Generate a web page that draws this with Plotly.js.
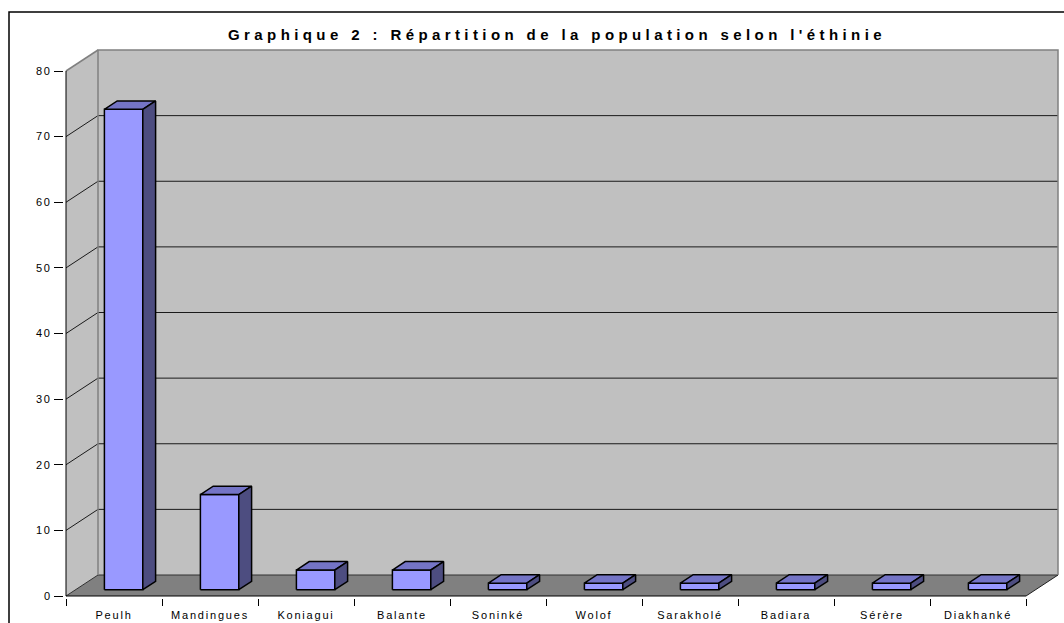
<!DOCTYPE html>
<html>
<head>
<meta charset="utf-8">
<script src="https://cdn.plot.ly/plotly-3.0.1.min.js"></script>
<style>
  html, body { margin: 0; padding: 0; background: #fff; }
  #chart { width: 1064px; height: 623px; }
  .gtitle { letter-spacing: 4.4px; }
  .xtick text, .ytick text { letter-spacing: 1.8px; }
</style>
</head>
<body>
<div id="chart"></div>
<script>
// ---- data ----
const categories = ['Peulh', 'Mandingues', 'Koniagui', 'Balante', 'Soninké', 'Wolof', 'Sarakholé', 'Badiara', 'Sérère', 'Diakhanké'];
const values = [73.2, 14.5, 3.0, 3.0, 1.0, 1.0, 1.0, 1.0, 1.0, 1.0];
const yTickVals = [0, 10, 20, 30, 40, 50, 60, 70, 80];
const yMax = 80;
const titleText = "Graphique 2 : Répartition de la population selon l'éthinie";

// ---- 3D geometry (in axis units) ----
const n = categories.length;
const pxX = 96, pxY = 6.5625;          // pixels per unit
const D = 32 / pxX;                     // depth offset along x
const H = 21 / pxY;                     // depth offset along y
const padX = 2 / pxX, padY = 2 / pxY;
const f = 0.3;                          // depth of bar front face
const depth = 0.4;                      // bar depth fraction
const bw = 0.4;                         // bar width (category units)

const FONT = '"Liberation Sans", Arial, sans-serif';

function polyTrace(polys, fill, lineColor, lineWidth) {
  const x = [], y = [];
  polys.forEach((p, k) => {
    if (k > 0) { x.push(null); y.push(null); }
    p.forEach(pt => { x.push(pt[0]); y.push(pt[1]); });
    x.push(p[0][0]); y.push(p[0][1]);
  });
  return {
    type: 'scatter', mode: 'lines', x, y,
    fill: fill ? 'toself' : 'none', fillcolor: fill || undefined,
    line: { color: lineColor || 'rgba(0,0,0,0)', width: lineWidth || 0 },
    hoverinfo: 'skip', showlegend: false
  };
}
function lineTrace(segs, color, width) {
  const x = [], y = [];
  segs.forEach((s, k) => {
    if (k > 0) { x.push(null); y.push(null); }
    s.forEach(pt => { x.push(pt[0]); y.push(pt[1]); });
  });
  return { type: 'scatter', mode: 'lines', x, y, line: { color, width },
           hoverinfo: 'skip', showlegend: false };
}

const traces = [];
// walls and floor
traces.push(polyTrace([[[0, 0], [D, H], [D, yMax + H], [0, yMax]]], '#C0C0C0'));
traces.push(polyTrace([[[D, H], [n + D, H], [n + D, yMax + H], [D, yMax + H]]], '#C0C0C0'));
traces.push(polyTrace([[[0, 0], [n, 0], [n + D, H], [D, H]]], '#808080'));

// gridlines
const gridSegs = yTickVals.filter(v => v > 0 && v < yMax).map(v => [[0, v], [D, v + H], [n + D, v + H]]);
traces.push(lineTrace(gridSegs, '#1a1a1a', 1));
// floor edges
traces.push(lineTrace([[[0, 0], [D, H], [n + D, H]]], '#303030', 1));
traces.push(lineTrace([[[n, 0], [n + D, H]]], '#202020', 1));
// wall borders (gray)
traces.push(lineTrace([[[D, H], [D, yMax + H], [n + D, yMax + H], [n + D, H]], [[0, yMax], [D, yMax + H]]], '#808080', 1.5));
// front axis lines
traces.push(lineTrace([[[0, 0], [0, yMax]], [[0, 0], [n, 0]]], '#000000', 1));

// bars
const fronts = [], tops = [], sides = [];
values.forEach((v, i) => {
  const c = i + 0.5 + f * D;
  const x0 = c - bw / 2, x1 = c + bw / 2;
  const b = f * H, t = b + v;
  const dx = depth * D, dy = depth * H;
  fronts.push([[x0, b], [x1, b], [x1, t], [x0, t]]);
  tops.push([[x0, t], [x1, t], [x1 + dx, t + dy], [x0 + dx, t + dy]]);
  sides.push([[x1, b], [x1 + dx, b + dy], [x1 + dx, t + dy], [x1, t]]);
});
traces.push(polyTrace(fronts, '#9999FF', '#000000', 1.5));
traces.push(polyTrace(tops, '#7474C6', '#000000', 1.5));
traces.push(polyTrace(sides, '#4D4D80', '#000000', 1.5));

// dummy trace for boundary tick axis
traces.push({ type: 'scatter', mode: 'markers', x: [0], y: [0], xaxis: 'x2',
              marker: { opacity: 0 }, hoverinfo: 'skip', showlegend: false });

const xRange = [-padX, n + D + padX];
const yRange = [-padY, yMax + H + padY];

const layout = {
  width: 1064, height: 623,
  margin: { l: 64, r: 4, t: 48, b: 25 },
  paper_bgcolor: '#ffffff', plot_bgcolor: 'rgba(0,0,0,0)',
  showlegend: false,
  font: { family: FONT, color: '#000000', size: 11 },
  title: {
    text: '<b>' + titleText + '</b>',
    font: { family: FONT, size: 15, color: '#000000' },
    xref: 'paper', x: (557 - 64) / 996, xanchor: 'center',
    yref: 'container', y: 1 - 35 / 623, yanchor: 'middle'
  },
  xaxis: {
    range: xRange, showgrid: false, zeroline: false, showline: false,
    tickmode: 'array', tickvals: categories.map((_, i) => i + 0.5), ticktext: categories,
    ticks: 'outside', ticklen: 7, tickcolor: 'rgba(0,0,0,0)',
    tickfont: { family: FONT, size: 11, color: '#000000' }, fixedrange: true
  },
  xaxis2: {
    range: xRange, overlaying: 'x', anchor: 'y', side: 'bottom',
    showgrid: false, zeroline: false, showline: false,
    tickmode: 'array', tickvals: categories.map((_, i) => i).concat([n]),
    ticks: 'outside', ticklen: 7, tickwidth: 1, tickcolor: '#000000',
    showticklabels: false, fixedrange: true
  },
  yaxis: {
    range: yRange, showgrid: false, zeroline: false, showline: false,
    tickmode: 'array', tickvals: yTickVals, ticktext: yTickVals.map(String),
    ticks: 'outside', ticklen: 9, tickwidth: 1, tickcolor: '#000000',
    tickfont: { family: FONT, size: 11, color: '#000000' }, fixedrange: true
  },
  shapes: [{
    type: 'rect', xref: 'paper', yref: 'paper',
    x0: (9 - 64) / 996, x1: (1070 - 64) / 996,
    y0: (598 - 630) / 550, y1: (598 - 12) / 550,
    line: { color: '#000000', width: 1.5 }, fillcolor: 'rgba(0,0,0,0)', layer: 'above'
  }]
};

Plotly.newPlot('chart', traces, layout, { staticPlot: true, displayModeBar: false });
</script>
</body>
</html>
